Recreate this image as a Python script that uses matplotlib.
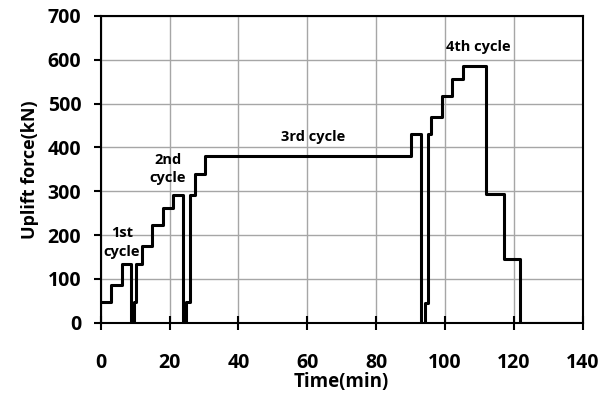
import matplotlib
matplotlib.use("Agg")
import matplotlib.pyplot as plt

# step load history (steps-post: load holds from this time to the next)
times = [0, 2.9, 6.3, 8.9, 9.75, 10.4, 11.9, 14.8, 18.1, 21.0, 23.95,
         24.9, 25.9, 27.4, 30.3, 90.2, 93.1,
         94.1, 95.0, 96.0, 99.1, 102.0, 105.2, 112.0, 117.1, 121.8, 140]
loads = [47, 86, 135, 0, 47, 135, 175, 222, 262, 292, 0,
         47, 292, 340, 380, 430, 0,
         46, 430, 470, 517, 556, 586, 293, 145, 0, 0]

cycle_labels = ["1st\ncycle", "2nd\ncycle", "3rd cycle", "4th cycle"]
label_t = [6.1, 19.5, 61.7, 109.6]
label_f = [183, 350, 424, 629]

x_ticks = [0, 20, 40, 60, 80, 100, 120, 140]
y_ticks = [0, 100, 200, 300, 400, 500, 600, 700]

plt.rcParams['font.family'] = ['Open Sans', 'DejaVu Sans']
plt.rcParams['font.weight'] = 'bold'
plt.rcParams['axes.labelweight'] = 'bold'

fig = plt.figure(figsize=(6.12, 3.96), dpi=100)
ax = fig.add_axes([0.1645, 0.185, 0.7875, 0.775])

ax.plot(times, loads, drawstyle='steps-post', color='black', lw=2.2, zorder=3)

for lab, t, f in zip(cycle_labels, label_t, label_f):
    ax.text(t, f, lab, ha='center', va='center', fontsize=10.5,
            fontweight='bold', multialignment='center', linespacing=1.4)

ax.set_xlim(0, 140)
ax.set_ylim(0, 700)
ax.set_xticks(x_ticks)
ax.set_yticks(y_ticks)
ax.grid(True, color='#A6A6A6', lw=1)
ax.set_axisbelow(True)

for s in ax.spines.values():
    s.set_linewidth(1.5)
    s.set_color('black')

ax.tick_params(axis='x', direction='inout', length=10, width=1.5, pad=17,
               labelsize=14)
ax.tick_params(axis='y', direction='out', length=5, width=1.5, pad=9,
               labelsize=14)

ax.set_xlabel('Time(min)', fontsize=13.5, labelpad=-1)
ax.set_ylabel('Uplift force(kN)', fontsize=13, labelpad=6)

fig.savefig('out.png', dpi=100)
